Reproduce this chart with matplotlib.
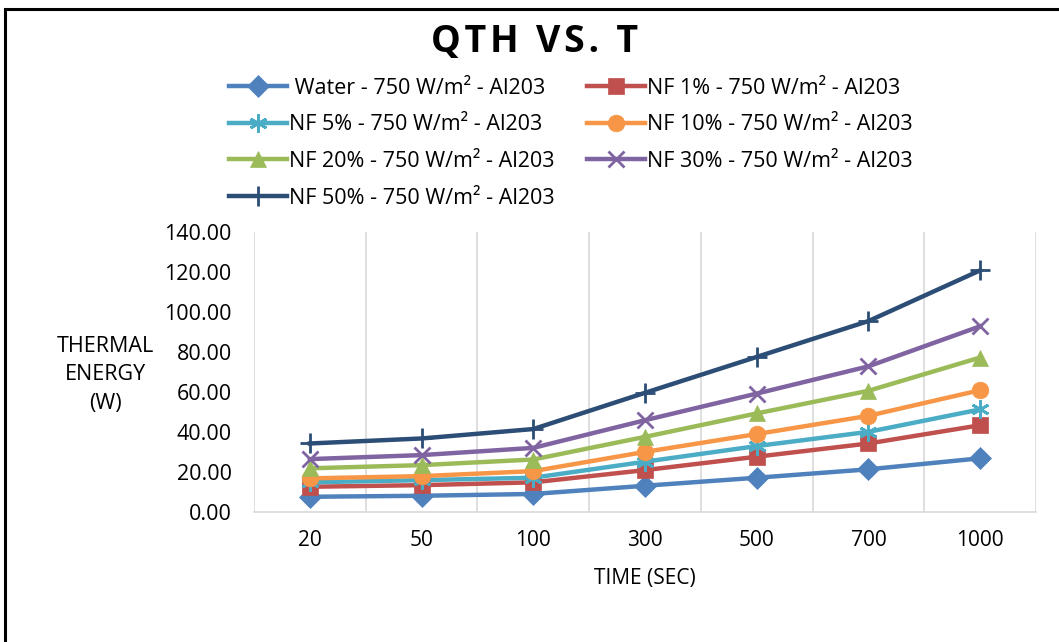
import matplotlib.pyplot as plt
import numpy as np

# time steps (categorical axis) and thermal energy per fluid
times = ['20', '50', '100', '300', '500', '700', '1000']
water = [7.6, 8.1, 9.0, 13.1, 17.1, 21.3, 26.8]
nf1 = [12.6, 13.4, 14.8, 20.9, 27.6, 34.2, 43.3]
nf5 = [14.8, 15.9, 17.1, 25.1, 32.9, 40.0, 51.2]
nf10 = [16.8, 17.9, 20.4, 30.0, 38.9, 48.0, 60.8]
nf20 = [21.8, 23.4, 26.2, 37.5, 49.2, 60.5, 77.1]
nf30 = [26.4, 28.4, 32.0, 45.8, 59.1, 72.7, 92.7]
nf50 = [34.2, 36.7, 41.4, 59.5, 77.4, 95.3, 120.6]

labels = [' Water - 750 W/m² - Al203', 'NF 1% - 750 W/m² - Al203',
          'NF 5% - 750 W/m² - Al203', 'NF 10% - 750 W/m² - Al203',
          'NF 20% - 750 W/m² - Al203', 'NF 30% - 750 W/m² - Al203',
          'NF 50% - 750 W/m² - Al203']

series = [water, nf1, nf5, nf10, nf20, nf30, nf50]
colors = ['#4F81BD', '#C0504D', '#4BACC6', '#F79646', '#9BBB59', '#8064A2', '#2C4D75']
markers = ['D', 's', (6, 2, 0), 'o', '^', 'x', '+']
msizes = [11, 11, 13, 12, 12, 12, 14]

plt.rcParams['font.family'] = ['Open Sans', 'DejaVu Sans']

fig = plt.figure(figsize=(10.59, 6.42), dpi=100)
ax = fig.add_axes([254 / 1059, 1 - 512 / 642, (1036 - 254) / 1059, (512 - 231.5) / 642])

x = np.arange(len(times))
handles = []
for vals, c, m, ms, lab in zip(series, colors, markers, msizes, labels):
    h, = ax.plot(x, vals, color=c, lw=3.2, marker=m, markersize=ms,
                 markeredgewidth=2 if m in ('x', '+', (6, 2, 0)) else 0.5,
                 markeredgecolor=c, label=lab)
    handles.append(h)

ax.set_xlim(-0.5, len(times) - 0.5)
ax.set_ylim(0, 140)
ax.set_yticks(np.arange(0, 141, 20))
ax.set_yticklabels(['%.2f' % v for v in np.arange(0, 141, 20)])
ax.set_xticks(x)
ax.set_xticklabels(times)
ax.set_xticks(np.arange(-0.5, len(times)), minor=True)
ax.grid(True, which='minor', axis='x', color='#D9D9D9', lw=1.2)
ax.tick_params(which='both', length=0)
ax.tick_params(axis='y', labelsize=15.5, pad=16)
ax.tick_params(axis='x', labelsize=15, pad=13)
for s in ['top', 'right', 'left']:
    ax.spines[s].set_visible(False)
ax.spines['bottom'].set_color('#D9D9D9')
ax.spines['bottom'].set_linewidth(1.2)

ax.set_xlabel('TIME (SEC)', fontsize=15, labelpad=12)
fig.text(105 / 1059, 1 - 375 / 642, 'THERMAL\nENERGY\n(W)', fontsize=15.5,
         ha='center', va='center', linespacing=1.45)

fig.text(535 / 1059, 1 - 42 / 642, '\u200a'.join('QTH VS. T'), fontsize=27,
         fontweight='bold', ha='center', va='center')

# legend filled row by row, two columns
order = [0, 2, 4, 6, 1, 3, 5]
fig.legend(handles=[handles[i] for i in order], ncol=2, frameon=False,
           loc='upper left', bbox_to_anchor=(229 / 1059, 1 - 78 / 642),
           fontsize=15.5, handlelength=2.7, handletextpad=0.1,
           columnspacing=1.5, labelspacing=0.72, borderpad=0, borderaxespad=0)

# chart border
fig.add_artist(plt.Rectangle((5 / 1059, -0.1), 1.2, 1 - 8.5 / 642 + 0.1,
                             transform=fig.transFigure, fill=False,
                             edgecolor='black', lw=2.2))

fig.savefig('out.png', dpi=100)
